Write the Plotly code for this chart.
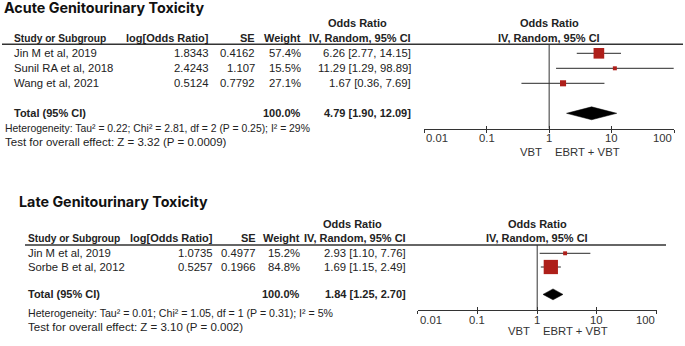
import math
import plotly.graph_objects as go

W, H = 685, 346

# ---------------- data ----------------
acute_studies = ["Jin M et al, 2019", "Sunil RA et al, 2018", "Wang et al, 2021"]
acute_logor = ["1.8343", "2.4243", "0.5124"]
acute_se = ["0.4162", "1.107", "0.7792"]
acute_weight = [57.4, 15.5, 27.1]
acute_or = [6.26, 11.29, 1.67]
acute_lo = [2.77, 1.29, 0.36]
acute_hi = [14.15, 98.89, 7.69]
acute_total = [4.79, 1.90, 12.09]
acute_het = "Heterogeneity: Tau² = 0.22; Chi² = 2.81, df = 2 (P = 0.25); I² = 29%"
acute_test = "Test for overall effect: Z = 3.32 (P = 0.0009)"

late_studies = ["Jin M et al, 2019", "Sorbe B et al, 2012"]
late_logor = ["1.0735", "0.5257"]
late_se = ["0.4977", "0.1966"]
late_weight = [15.2, 84.8]
late_or = [2.93, 1.69]
late_lo = [1.10, 1.15]
late_hi = [7.76, 2.49]
late_total = [1.84, 1.25, 2.70]
late_het = "Heterogeneity: Tau² = 0.01; Chi² = 1.05, df = 1 (P = 0.31); I² = 5%"
late_test = "Test for overall effect: Z = 3.10 (P = 0.002)"

tick_vals = [0.01, 0.1, 1, 10, 100]
tick_text = ["0.01", "0.1", "1", "10", "100"]
favours = ["VBT", "EBRT + VBT"]

# ---------------- styling ----------------
TF = "Liberation Sans, Arial, sans-serif"
TITLEF = "Inter, Roboto, sans-serif"
TXT = "#222222"
RED = "#AE1F1A"
REG = 11.3
BOLD = 11


def px(x):
    return x / W


def py(y):
    return 1 - y / H


fig = go.Figure()
annotations = []
shapes = []


def ann(text, x, y, anchor="left", bold=False, size=None, xref="paper", yref="paper",
        family=TF, color=TXT, xshift=0):
    if size is None:
        size = BOLD if bold else REG
    annotations.append(dict(
        text=f"<b>{text}</b>" if bold else text, x=x, y=y, xref=xref, yref=yref,
        xanchor=anchor, yanchor="middle", showarrow=False, xshift=xshift,
        font=dict(family=family, size=size, color=color)))


def panel(idx, title, title_x, title_y, studies, logor, se, weight, orv, lo, hi, total,
          het, test, cfg):
    xa = "x" if idx == 1 else f"x{idx}"
    ya = "y" if idx == 1 else f"y{idx}"
    xo = f"x{idx + 2}"
    n = len(studies)
    rows = list(range(n))
    total_row = cfg["total_row"]

    # title
    ann(title, px(title_x), py(title_y), bold=True, size=cfg["title_size"], family=TITLEF,
        color="#111111")
    # headers
    ann("Odds Ratio", px(cfg["or_center"]), py(cfg["h1"]), anchor="center", bold=True)
    ann("Odds Ratio", px(cfg["plot_center"]), py(cfg["h1"]), anchor="center", bold=True)
    ann("Study or Subgroup", px(cfg["left"]), py(cfg["h2"]), bold=True, size=10.2)
    ann("log[Odds Ratio]", px(cfg["c_log"]), py(cfg["h2"]), anchor="right", bold=True)
    ann("SE", px(cfg["c_se"]), py(cfg["h2"]), anchor="right", bold=True)
    ann("Weight", px(cfg["c_w"]), py(cfg["h2"]), anchor="right", bold=True)
    ann("IV, Random, 95% CI", px(cfg["c_or"]), py(cfg["h2"]), anchor="right", bold=True)
    ann("IV, Random, 95% CI", px(cfg["plot_center"]), py(cfg["h2"]), anchor="center", bold=True)
    shapes.append(dict(type="line", xref="paper", yref="paper",
                       x0=px(cfg["line_x0"]), x1=px(cfg["line_x1"]),
                       y0=py(cfg["line_y"]), y1=py(cfg["line_y"]),
                       line=dict(color="#333333", width=1.4)))
    # study rows
    for i in range(n):
        ann(studies[i], px(cfg["left"]), rows[i], yref=ya)
        ann(logor[i], px(cfg["c_log"]), rows[i], anchor="right", yref=ya)
        ann(se[i], px(cfg["c_se"]), rows[i], anchor="right", yref=ya)
        ann(f"{weight[i]:.1f}%", px(cfg["c_w"]), rows[i], anchor="right", yref=ya)
        ann(f"{orv[i]:.2f} [{lo[i]:.2f}, {hi[i]:.2f}]", px(cfg["c_or"]), rows[i],
            anchor="right", yref=ya)
    # total row
    ann("Total (95% CI)", px(cfg["left"]), total_row, bold=True, yref=ya)
    ann(f"{sum(weight):.1f}%", px(cfg["c_w"]), total_row, anchor="right", bold=True, yref=ya)
    ann(f"{total[0]:.2f} [{total[1]:.2f}, {total[2]:.2f}]", px(cfg["c_or"]), total_row,
        anchor="right", bold=True, yref=ya)
    ann(het, px(cfg["het_x"]), py(cfg["het_y"]), size=cfg["het_size"])
    ann(test, px(cfg["het_x"]), py(cfg["test_y"]), size=cfg["test_size"])

    # forest: CI lines + squares
    fig.add_trace(go.Scatter(
        x=orv, y=rows, xaxis=xa, yaxis=ya, mode="markers",
        marker=dict(symbol="square", color=RED, opacity=1,
                    size=[0.51 * w ** 0.75 for w in weight], line=dict(width=0)),
        error_x=dict(type="data", symmetric=False,
                     array=[h - o for h, o in zip(hi, orv)],
                     arrayminus=[o - l for o, l in zip(orv, lo)],
                     color="#2a2a2a", thickness=1, width=0),
        cliponaxis=False, showlegend=False, hoverinfo="skip"))
    # diamond
    hh = cfg["diamond_h"]
    fig.add_trace(go.Scatter(
        x=[total[1], total[0], total[2], total[0], total[1]],
        y=[total_row, total_row - hh, total_row, total_row + hh, total_row],
        xaxis=xa, yaxis=ya, mode="lines", fill="toself", fillcolor="black",
        line=dict(color="black", width=0.5), showlegend=False, hoverinfo="skip"))
    # dummy trace for overlay tick axis
    fig.add_trace(go.Scatter(x=[1], y=[total_row], xaxis=xo, yaxis=ya, mode="markers",
                             marker=dict(opacity=0), showlegend=False, hoverinfo="skip"))
    # vertical line of no effect
    shapes.append(dict(type="line", xref=xa, yref=f"{ya} domain", x0=1, x1=1, y0=0, y1=1,
                       line=dict(color="#333333", width=1)))
    # tick labels (annotation x on log axes is given in log10 units)
    for v, t in zip(tick_vals, tick_text):
        anchor = "left" if v == tick_vals[0] else ("right" if v == tick_vals[-1] else "center")
        ann(t, math.log10(v), py(cfg["tick_y"]), anchor=anchor, xref=xa, color="#333333",
            size=REG)
    ann(favours[0], 0, py(cfg["fav_y"]), anchor="right", xref=xa, color="#333333", xshift=-5)
    ann(favours[1], 0, py(cfg["fav_y"]), anchor="left", xref=xa, color="#333333", xshift=4)

    axis_common = dict(type="log", range=[-2, 2], tickvals=tick_vals,
                       showticklabels=False, showgrid=False, zeroline=False,
                       ticklen=3, tickwidth=1, tickcolor="#333333", fixedrange=True)
    fig.update_layout(**{
        ("xaxis" if idx == 1 else f"xaxis{idx}"): dict(
            axis_common, domain=[px(cfg["x0"]), px(cfg["x1"])], anchor=ya, ticks="outside",
            showline=True, linecolor="#333333", linewidth=1.2),
        f"xaxis{idx + 2}": dict(axis_common, overlaying=xa, anchor=ya, ticks="inside",
                                showline=False),
        ("yaxis" if idx == 1 else f"yaxis{idx}"): dict(
            domain=[py(cfg["y_bot"]), py(cfg["y_top"])], range=cfg["yrange"],
            visible=False, anchor=xa, fixedrange=True),
    })


panel(1, "Acute Genitourinary Toxicity", 2, 8, acute_studies, acute_logor, acute_se,
      acute_weight, acute_or, acute_lo, acute_hi, acute_total, acute_het, acute_test,
      dict(total_row=4, title_size=14.3, or_center=357, plot_center=549, h1=23, h2=38,
           left=12, c_log=211, c_se=257, c_w=303, c_or=413,
           line_x0=2, line_x1=683, line_y=44.3, het_x=3, het_y=128, test_y=142,
           het_size=10.4, test_size=11.5, diamond_h=0.43, tick_y=138, fav_y=152,
           x0=424.3, x1=674, y_top=44.3, y_bot=128.5, yrange=[5.013, -0.6]))

panel(2, "Late Genitourinary Toxicity", 17, 201, late_studies, late_logor, late_se,
      late_weight, late_or, late_lo, late_hi, late_total, late_het, late_test,
      dict(total_row=3, title_size=14.3, or_center=353, plot_center=537, h1=224, h2=238,
           left=26, c_log=215, c_se=258, c_w=302, c_or=408,
           line_x0=25, line_x1=666, line_y=245, het_x=26, het_y=313, test_y=327,
           het_size=10.6, test_size=11.5, diamond_h=0.4, tick_y=320, fav_y=331,
           x0=417.7, x1=656.7, y_top=245, y_bot=310, yrange=[4.14, -0.606]))

fig.update_layout(width=W, height=H, margin=dict(l=0, r=0, t=0, b=0),
                  paper_bgcolor="white", plot_bgcolor="white",
                  annotations=annotations, shapes=shapes, showlegend=False)
fig.write_html("out.html", config={"displayModeBar": False},
               post_script="document.body.style.margin='0px';")
